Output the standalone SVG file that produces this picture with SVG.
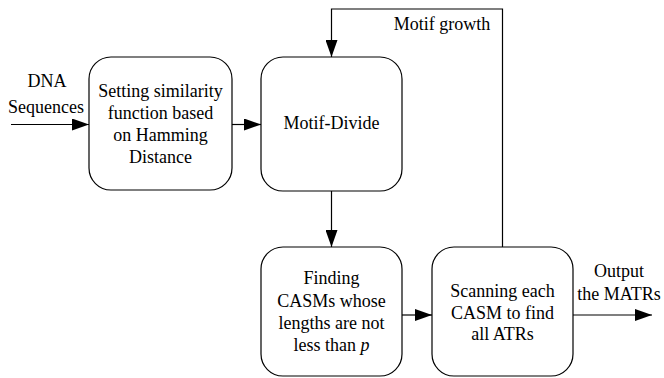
<svg xmlns="http://www.w3.org/2000/svg" width="664" height="378" viewBox="0 0 664 378">
<style>
.box{fill:#fff;stroke:#000;stroke-width:1.2}
.ln{fill:none;stroke:#000;stroke-width:1.2}
text{font-family:'Liberation Serif','Times New Roman','DejaVu Serif',serif;font-size:18px;fill:#000;text-anchor:middle}
</style>
<defs>
<marker id="ah" markerWidth="17" markerHeight="12" refX="17" refY="6" orient="auto" markerUnits="userSpaceOnUse">
<path d="M0,0 L17,6 L0,12 Z" fill="#000"/>
</marker>
</defs>
<rect width="664" height="378" fill="#fff"/>
<g id="connectors">
<line class="ln" x1="11" y1="124.5" x2="89" y2="124.5" marker-end="url(#ah)"/>
<line class="ln" x1="232" y1="124.5" x2="261" y2="124.5" marker-end="url(#ah)"/>
<line class="ln" x1="331.5" y1="191" x2="331.5" y2="247" marker-end="url(#ah)"/>
<line class="ln" x1="402" y1="315" x2="432" y2="315" marker-end="url(#ah)"/>
<line class="ln" x1="573" y1="315" x2="652" y2="315" marker-end="url(#ah)"/>
<polyline class="ln" points="502.5,247 502.5,9 331.5,9 331.5,57" marker-end="url(#ah)"/>
<text x="442" y="30">Motif growth</text>
<text x="47" y="87">DNA</text>
<text x="46" y="113">Sequences</text>
<text x="619" y="277">Output</text>
<text x="619" y="300">the MATRs</text>
</g>
<g id="n1">
<rect class="box" x="89" y="57" width="143" height="133" rx="22"/>
<text x="160.5" y="97">Setting similarity</text>
<text x="160.5" y="119">function based</text>
<text x="160.5" y="141">on Hamming</text>
<text x="160.5" y="163">Distance</text>
</g>
<g id="n2">
<rect class="box" x="261" y="57" width="141" height="134" rx="22"/>
<text x="331.5" y="129">Motif-Divide</text>
</g>
<g id="n3">
<rect class="box" x="261" y="247" width="141" height="129" rx="22"/>
<text x="331.5" y="284">Finding</text>
<text x="331.5" y="307">CASMs whose</text>
<text x="331.5" y="329">lengths are not</text>
<text x="331.5" y="351">less than <tspan font-style="italic">p</tspan></text>
</g>
<g id="n4">
<rect class="box" x="432" y="247" width="141" height="129" rx="22"/>
<text x="502.5" y="297">Scanning each</text>
<text x="502.5" y="319">CASM to find</text>
<text x="502.5" y="340">all ATRs</text>
</g>
</svg>
